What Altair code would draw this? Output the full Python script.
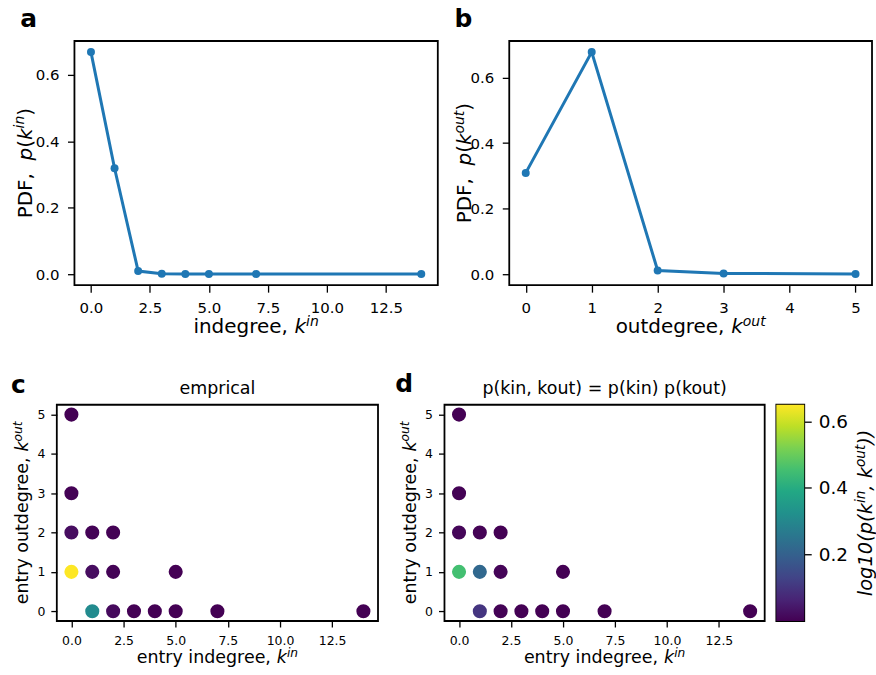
import altair as alt
import pandas as pd

FONT = "DejaVu Sans"
BLUE = "#1f77b4"
VIRIDIS = ["#440154", "#482475", "#414487", "#355f8d", "#2a788e", "#21918c",
           "#22a884", "#44bf70", "#7ad151", "#bddf26", "#fde725"]

# degree distributions
k_in = [0, 1, 2, 3, 4, 5, 7, 14]
p_in = [0.669, 0.319, 0.009, 0.001, 0.0005, 0.0003, 0.0003, 0.0003]
k_out = [0, 1, 2, 3, 5]
p_out = [0.309, 0.678, 0.011, 0.002, 0.0003]

# joint distribution entries (kin, kout)
entry_in = [0, 0, 0, 1, 2, 0, 1, 2, 5, 1, 2, 3, 4, 5, 7, 14]
entry_out = [5, 3, 2, 2, 2, 1, 1, 1, 1, 0, 0, 0, 0, 0, 0, 0]
p_emp = [0.0003, 0.002, 0.02, 0.003, 0.002, 0.65, 0.02, 0.003, 0.0003,
         0.31, 0.015, 0.001, 0.0005, 0.0003, 0.0003, 0.0003]
p_prod = [0.0002, 0.0013, 0.008, 0.004, 0.0001, 0.455, 0.218, 0.007, 0.0002,
          0.099, 0.003, 0.0003, 0.0002, 0.0001, 0.0001, 0.0001]

x_ticks_in = [0.0, 2.5, 5.0, 7.5, 10.0, 12.5]
x_ticks_out = [0, 1, 2, 3, 4, 5]
y_ticks_pdf = [0.0, 0.2, 0.4, 0.6]
y_ticks_out = [0, 1, 2, 3, 4, 5]
cbar_ticks = [0.2, 0.4, 0.6]
C_MAX = 0.65

XDOM_IN = [-0.7, 14.7]
XDOM_OUT = [-0.25, 5.25]
YDOM_IN = [-0.03345, 0.70245]
YDOM_OUT = [-0.0339, 0.7119]
YDOM_JOINT = [-0.25, 5.25]

ONE = pd.DataFrame({"n": [1]})

# DejaVu Sans advance widths (em) for composing mixed-style labels
ADV = {" ": 0.318, ",": 0.318, "(": 0.390, ")": 0.390, "=": 0.838,
       "P": 0.603, "D": 0.770, "F": 0.575, "d": 0.635, "e": 0.615,
       "g": 0.635, "i": 0.278, "k": 0.579, "l": 0.278, "n": 0.634,
       "o": 0.612, "p": 0.635, "r": 0.411, "t": 0.392, "u": 0.634,
       "y": 0.592}
for _d in "0123456789":
    ADV[_d] = 0.636


def text_at(txt, x, y, size, angle=0, align="left", baseline="alphabetic",
            italic=False, bold=False):
    kw = dict(text=txt, font=FONT, fontSize=size, align=align,
              baseline=baseline, color="black")
    if angle:
        kw["angle"] = angle
    if italic:
        kw["fontStyle"] = "italic"
    if bold:
        kw["fontWeight"] = "bold"
    return alt.Chart(ONE).mark_text(**kw).encode(x=alt.value(x), y=alt.value(y))


def letter(txt, x, base_y):
    # bold panel letter; top-anchored so its box starts at a known y
    return text_at(txt, x, base_y - round(0.79 * 25), 25, baseline="top", bold=True)


def guide(x, y, align="left", baseline="top"):
    # empty, transparent marker that fixes the extent of a panel cell
    return alt.Chart(ONE).mark_text(text=" ", fontSize=1, opacity=0, align=align,
                                    baseline=baseline).encode(x=alt.value(x), y=alt.value(y))


def math_label(runs, cx, cy, size, vertical=False):
    """Centered label built from roman / italic / superscript runs."""
    sizes = [size * 0.7 if st == "sup" else size for _, st in runs]
    widths = [sum(ADV[c] for c in t) * fs for (t, _), fs in zip(runs, sizes)]
    total = sum(widths)
    pos = cy + total / 2 if vertical else cx - total / 2
    layers = []
    for (t, st), fs, w in zip(runs, sizes, widths):
        rise = 0.36 * size if st == "sup" else 0
        if vertical:
            layers.append(text_at(t, cx - rise, pos, fs, angle=270, italic=st != "rm"))
            pos -= w
        else:
            layers.append(text_at(t, pos, cy - rise, fs, italic=st != "rm"))
            pos += w
    return layers


def make_axis(values, fmt, size, tick, pad, orient=None, offset=None):
    kw = dict(values=values, format=fmt, title=None, grid=False, domain=False,
              ticks=True, tickSize=tick, tickWidth=1.3, tickColor="black",
              labelFont=FONT, labelFontSize=size, labelColor="black",
              labelPadding=pad, labelFlush=False, labelOverlap=False)
    if orient:
        kw["orient"] = orient
    if offset is not None:
        kw["offset"] = offset
    return alt.Axis(**kw)


def pdf_panel(k, p, xdom, ydom, xticks, xfmt, W, H, off, let, lx, ly,
              sup, word, yt_x, guides):
    """Line + markers of a degree PDF; the axes box starts `off` px into the cell."""
    df = pd.DataFrame({"k": k, "p": p})
    xs = alt.Scale(domain=xdom, range=[off, off + W], nice=False, zero=False)
    ys = alt.Scale(domain=ydom, nice=False, zero=False)
    base = alt.Chart(df).encode(
        x=alt.X("k:Q", scale=xs, axis=make_axis(xticks, xfmt, 15, 7, 8)),
        y=alt.Y("p:Q", scale=ys,
                axis=make_axis(y_ticks_pdf, ".1f", 15, 7, 8.5, offset=-off)),
    )
    frame = alt.Chart(ONE).mark_rect(filled=False, stroke="black", strokeWidth=1.8).encode(
        x=alt.datum(xdom[0]), x2=alt.datum(xdom[1]),
        y=alt.datum(ydom[0]), y2=alt.datum(ydom[1]))
    line = base.mark_line(color=BLUE, strokeWidth=3)
    pts = base.mark_point(filled=True, color=BLUE, size=64, opacity=1)
    texts = [letter(let, off + lx, ly)]
    texts += math_label([(word + ", ", "rm"), ("k", "it"), (sup, "sup")],
                        off + W / 2, 292.7, 20)
    texts += math_label([("PDF,  ", "rm"), ("p", "it"), ("(", "rm"), ("k", "it"),
                         (sup, "sup"), (")", "rm")], off + yt_x, H / 2, 20, vertical=True)
    return (alt.layer(frame, line, pts, *texts, *guides)
            .properties(width=off + W, height=H, view=alt.ViewBackground(stroke=None)))


def joint_panel(values, title, let, lx, ly, W, H, guides):
    df = pd.DataFrame({"kin": entry_in, "kout": entry_out, "p": values})
    pts = alt.Chart(df).mark_circle(size=200, opacity=1).encode(
        x=alt.X("kin:Q", scale=alt.Scale(domain=XDOM_IN, nice=False, zero=False),
                axis=make_axis(x_ticks_in, ".1f", 12.5, 6, 7.5)),
        y=alt.Y("kout:Q", scale=alt.Scale(domain=YDOM_JOINT, nice=False, zero=False),
                axis=make_axis(y_ticks_out, "d", 12.5, 6, 6)),
        color=alt.Color("p:Q", scale=alt.Scale(scheme="viridis", domain=[0, C_MAX]),
                        legend=None),
    )
    texts = [letter(let, lx, ly),
             text_at(title, W / 2, -11, 17.5, align="center")]
    texts += math_label([("entry indegree, ", "rm"), ("k", "it"), ("in", "sup")],
                        W / 2, 259.5, 17.5)
    texts += math_label([("entry outdegree, ", "rm"), ("k", "it"), ("out", "sup")],
                        -29, H / 2, 17.5, vertical=True)
    return alt.layer(pts, *texts, *guides).properties(width=W, height=H)


# top row: a (box 73.7-438.3 px), b (box 510-874 px), boxes 245 px tall from y=39.3
pa = pdf_panel(k_in, p_in, XDOM_IN, YDOM_IN, x_ticks_in, ".1f",
               364.6, 245, 17.7, "a", -54.4, -13.6, "in", "indegree", -43,
               [guide(-56, -39.3), guide(384, 310.7, "right", "bottom")])
pb = pdf_panel(k_out, p_out, XDOM_OUT, YDOM_OUT, x_ticks_out, "d",
               364, 245, 0, "b", -55, -14.3, "out", "outdegree", -38.3,
               [guide(-70, -39.3), guide(0, 310.7, "left", "bottom")])

# bottom row: c (56-378.3), d (442.7-764), colorbar (772.7-800.7), from y=402.7
pc = joint_panel(p_emp, "emprical", "c", -46, -11.7, 322.3, 217,
                 [guide(-56, -52.7), guide(332, 0, "right", "top")])
pd_ = joint_panel(p_prod, "p(kin, kout) = p(kin) p(kout)", "d", -49.4, -12.7, 321.3, 217,
                  [guide(-54.7, -52.7), guide(325.3, 0, "right", "top")])

# colorbar
cb_df = pd.DataFrame({"lo": [0.0], "hi": [C_MAX], "x0": [0], "x1": [1]})
grad = alt.LinearGradient(
    gradient="linear", x1=0, x2=0, y1=1, y2=0,
    stops=[alt.GradientStop(offset=i / 10, color=c) for i, c in enumerate(VIRIDIS)])
cbar_rect = alt.Chart(cb_df).mark_rect(fill=grad).encode(
    x=alt.X("x0:Q", scale=alt.Scale(domain=[0, 1]), axis=None),
    x2="x1",
    y=alt.Y("lo:Q", scale=alt.Scale(domain=[0, C_MAX], nice=False, zero=False),
            axis=make_axis(cbar_ticks, ".1f", 18.5, 7, 7, orient="right")),
    y2="hi",
)
cb_title = math_label([("log10(p(k", "it"), ("in", "sup"), (", k", "it"),
                       ("out", "sup"), ("))", "it")], 95.6, 108.5, 19.5, vertical=True)
cbar = alt.layer(cbar_rect, *cb_title, guide(-4.7, -52.7)).properties(width=28, height=217)

top = alt.hconcat(pa, pb, spacing=0)
bottom = alt.hconcat(pc, pd_, cbar, spacing=0)

chart = (
    alt.vconcat(top, bottom, spacing=0)
    .properties(padding={"left": 0, "top": 0, "right": 0, "bottom": 0},
                background="white")
    .configure_view(stroke="black", strokeWidth=1.8)
)

chart.save("out.html", embed_options={"renderer": "svg", "actions": False})
